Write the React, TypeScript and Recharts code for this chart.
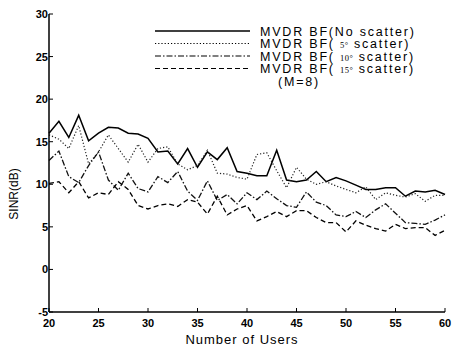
import React from 'react';
import { LineChart, Line, XAxis, YAxis, Legend } from 'recharts';

const users = [20, 21, 22, 23, 24, 25, 26, 27, 28, 29, 30, 31, 32, 33, 34, 35, 36, 37, 38, 39, 40, 41, 42, 43, 44, 45, 46, 47, 48, 49, 50, 51, 52, 53, 54, 55, 56, 57, 58, 59, 60];
const noScatter = [16.0, 17.4, 15.5, 18.1, 15.1, 16.0, 16.7, 16.6, 16.0, 15.9, 15.4, 13.8, 13.9, 12.4, 14.2, 12.0, 13.8, 12.9, 14.3, 11.5, 11.3, 11.0, 11.0, 14.0, 10.5, 10.3, 10.5, 11.5, 10.3, 10.8, 10.4, 9.9, 9.4, 9.4, 9.6, 9.6, 8.6, 9.2, 9.1, 9.3, 8.8];
const scatter5 = [15.8, 15.3, 14.2, 16.9, 12.4, 13.8, 15.8, 14.2, 12.6, 14.7, 12.6, 14.2, 14.4, 12.4, 11.7, 12.2, 14.0, 11.3, 11.2, 10.8, 10.6, 13.5, 13.7, 11.6, 9.6, 12.0, 10.6, 10.0, 10.3, 9.8, 9.4, 9.0, 9.7, 8.2, 9.0, 8.7, 8.5, 8.9, 8.0, 8.7, 8.7];
const scatter10 = [12.8, 13.9, 10.9, 10.2, 12.2, 13.8, 10.5, 9.3, 11.3, 9.5, 9.1, 10.9, 10.2, 11.5, 9.2, 8.1, 10.4, 8.1, 8.8, 7.7, 9.0, 8.2, 9.2, 8.3, 7.5, 7.3, 9.1, 7.9, 7.5, 6.4, 6.2, 6.8, 6.1, 7.0, 7.7, 6.6, 5.5, 5.4, 5.3, 5.8, 6.4];
const scatter15 = [10.1, 10.3, 9.0, 10.3, 8.4, 9.0, 8.8, 10.3, 9.4, 7.5, 7.1, 7.5, 7.7, 7.4, 8.2, 7.9, 6.5, 8.6, 6.4, 7.1, 7.5, 5.7, 6.2, 6.8, 6.2, 6.9, 6.9, 6.1, 5.5, 5.5, 4.4, 5.7, 5.2, 4.8, 4.5, 5.3, 4.8, 4.9, 4.9, 4.0, 4.6];
const xTicks = [20, 25, 30, 35, 40, 45, 50, 55, 60];
const yTicks = [-5, 0, 5, 10, 15, 20, 25, 30];
const legendLabels = ['No scatter', '5°', '10°', '15°'];

const data = users.map((u, i) => ({
  u,
  s0: noScatter[i],
  s5: scatter5[i],
  s10: scatter10[i],
  s15: scatter15[i],
}));

const FONT = '"Liberation Sans", Arial, sans-serif';

const XTickBottom = (props: any) => {
  const { x, y, payload } = props;
  return (
    <g>
      <line x1={x} y1={y} x2={x} y2={y - 4} stroke="#000" strokeWidth={1} />
      <text x={x} y={y + 15} textAnchor="middle" fontFamily={FONT} fontSize={11} fontWeight="bold" fill="#000">
        {payload.value}
      </text>
    </g>
  );
};
const XTickTop = (props: any) => {
  const { x, y } = props;
  return <line x1={x} y1={y} x2={x} y2={y + 4} stroke="#000" strokeWidth={1} />;
};
const YTickLeft = (props: any) => {
  const { x, y, payload } = props;
  return (
    <g>
      <line x1={x} y1={y} x2={x + 4} y2={y} stroke="#000" strokeWidth={1} />
      <text x={x - 1} y={y + 4} textAnchor="end" fontFamily={FONT} fontSize={11} fontWeight="bold" fill="#000">
        {payload.value}
      </text>
    </g>
  );
};
const YTickRight = (props: any) => {
  const { x, y } = props;
  return <line x1={x} y1={y} x2={x - 4} y2={y} stroke="#000" strokeWidth={1} />;
};

const dashes = [undefined, '1.2 2', '6 2 1.5 2', '5 3'];

const LegendBox = () => (
  <svg width={300} height={80} style={{ overflow: 'visible', display: 'block' }}>
    {legendLabels.map((lab, i) => {
      const y = 9 + i * 12.5;
      return (
        <g key={lab}>
          <line x1={5} y1={y} x2={100} y2={y} stroke="#000" strokeWidth={i === 0 ? 1.4 : 1.1} strokeDasharray={dashes[i]} />
          <text x={110} y={y + 4.5} fontFamily={FONT} fontSize={12.5} letterSpacing={1.8} fill="#000">
            {i === 0 ? (
              'MVDR BF(No scatter)'
            ) : (
              <>
                {'MVDR BF(  '}
                <tspan fontSize={8.5} letterSpacing={0.5} fontFamily='"Liberation Serif", serif'>{lab}</tspan>
                {' scatter)'}
              </>
            )}
          </text>
        </g>
      );
    })}
    <text x={128} y={63.5} fontFamily={FONT} fontSize={12.5} letterSpacing={1.8} fill="#000">
      (M=8)
    </text>
  </svg>
);

export default function App() {
  return (
    <div style={{ position: 'absolute', left: 0, top: 0, width: 452, height: 347, background: '#fff' }}>
      <LineChart width={452} height={347} data={data} margin={{ top: 14, right: 7, bottom: 0, left: 0 }}>
        <XAxis
          xAxisId="b"
          dataKey="u"
          type="number"
          domain={[20, 60]}
          ticks={xTicks}
          height={35}
          tickSize={0}
          tickMargin={0}
          tickLine={false}
          axisLine={{ stroke: '#000', strokeWidth: 1.3 }}
          tick={<XTickBottom />}
          interval={0}
          label={{
            content: () => (
              <text x={242} y={344} textAnchor="middle" fontFamily={FONT} fontSize={13} fill="#000" letterSpacing={1}>
                Number of Users
              </text>
            ),
          }}
        />
        <XAxis
          xAxisId="t"
          orientation="top"
          dataKey="u"
          type="number"
          domain={[20, 60]}
          ticks={xTicks}
          height={0}
          tickSize={0}
          tickMargin={0}
          tickLine={false}
          axisLine={{ stroke: '#000', strokeWidth: 1 }}
          tick={<XTickTop />}
          interval={0}
        />
        <YAxis
          yAxisId="l"
          type="number"
          domain={[-5, 30]}
          ticks={yTicks}
          width={49}
          tickSize={0}
          tickMargin={0}
          tickLine={false}
          axisLine={{ stroke: '#000', strokeWidth: 1.5 }}
          tick={<YTickLeft />}
          interval={0}
          label={{
            content: () => (
              <text x={18} y={194} textAnchor="middle" transform="rotate(-90 18 194)" fontFamily={FONT} fontSize={12} fill="#000">
                SINR(dB)
              </text>
            ),
          }}
        />
        <YAxis
          yAxisId="r"
          orientation="right"
          type="number"
          domain={[-5, 30]}
          ticks={yTicks}
          width={0}
          tickSize={0}
          tickMargin={0}
          tickLine={false}
          axisLine={{ stroke: '#000', strokeWidth: 1.3 }}
          tick={<YTickRight />}
          interval={0}
        />
        <Legend
          content={<LegendBox />}
          wrapperStyle={{ position: 'absolute', left: 150, top: 22, width: 0, height: 0, overflow: 'visible' }}
        />
        <Line xAxisId="b" yAxisId="l" dataKey="s0" stroke="#000" strokeWidth={1.5} dot={false} isAnimationActive={false} />
        <Line xAxisId="b" yAxisId="l" dataKey="s5" stroke="#222" strokeWidth={1.2} strokeDasharray="1.2 2" dot={false} isAnimationActive={false} />
        <Line xAxisId="b" yAxisId="l" dataKey="s10" stroke="#111" strokeWidth={1.3} strokeDasharray="6 2 1.5 2" dot={false} isAnimationActive={false} />
        <Line xAxisId="b" yAxisId="l" dataKey="s15" stroke="#000" strokeWidth={1.3} strokeDasharray="5 3" dot={false} isAnimationActive={false} />
      </LineChart>
    </div>
  );
}
